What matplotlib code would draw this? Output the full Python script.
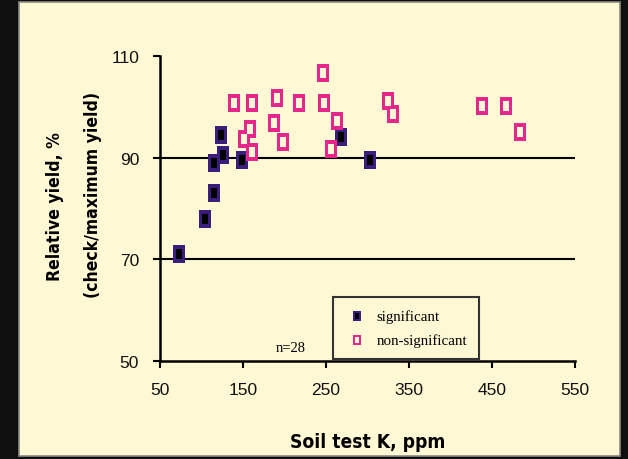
import matplotlib
matplotlib.use("Agg")
import matplotlib.pyplot as plt
from matplotlib.patches import Rectangle
from matplotlib.legend_handler import HandlerTuple

# datos
sig_k = [73, 104, 115, 115, 126, 123, 149, 268, 303]
sig_y = [71, 78, 83, 89, 90.5, 94.5, 89.5, 94, 89.5]

nosig_k = [139, 161, 158, 151, 161, 191, 187, 198, 217, 246, 248, 263, 256,
           325, 331, 438, 467, 484]
nosig_y = [100.7, 100.7, 95.6, 93.7, 91.1, 101.7, 96.8, 93.1, 100.7, 106.7,
           100.7, 97.2, 91.7, 101.1, 98.6, 100.2, 100.2, 95.0]

x_ticks = [50, 150, 250, 350, 450, 550]
y_ticks = [50, 70, 90, 110]
lineas = [70, 90]

crema = '#fff8d4'
morado = '#3b1d7c'
rosa = '#e5268a'

sans = ['DejaVu Sans']
serif = ['Liberation Serif', 'DejaVu Serif']

fig = plt.figure(figsize=(6.28, 4.6), dpi=100, facecolor='#0f0f0f')
# panel crema de fondo
fig.patches.append(Rectangle((19 / 628, 3 / 460), 601 / 628, 454 / 460,
                             transform=fig.transFigure, facecolor=crema,
                             edgecolor='#8a8a80', linewidth=1.2, zorder=-5))

ax = fig.add_axes([160 / 628, 1 - 362 / 460, 415 / 628, 305 / 460])
ax.set_facecolor('none')
ax.set_zorder(2)

caja = [(-0.38, -0.5), (0.38, -0.5), (0.38, 0.5), (-0.38, 0.5), (-0.38, -0.5)]
hueco = [(-0.28, -0.5), (0.28, -0.5), (0.28, 0.5), (-0.28, 0.5), (-0.28, -0.5)]

for y in lineas:
    ax.axhline(y, color='black', linewidth=1.5, zorder=1)

s1 = ax.scatter(sig_k, sig_y, marker=caja, s=150, color=morado,
                linewidth=0, zorder=3)
s2 = ax.scatter(sig_k, sig_y, marker=hueco, s=42, color='black',
                linewidth=0, zorder=4)
n1 = ax.scatter(nosig_k, nosig_y, marker=caja, s=150, color=rosa,
                linewidth=0, zorder=3)
n2 = ax.scatter(nosig_k, nosig_y, marker=hueco, s=42, color=crema,
                linewidth=0, zorder=4)

ax.set_xlim(50, 550)
ax.set_ylim(50, 110)
ax.set_xticks(x_ticks)
ax.set_yticks(y_ticks)
ax.spines['top'].set_visible(False)
ax.spines['right'].set_visible(False)
ax.spines['left'].set_linewidth(1.8)
ax.spines['bottom'].set_linewidth(1.8)
ax.tick_params(direction='out', length=5, width=1.5, labelsize=12.5, pad=10)
for t in ax.get_xticklabels() + ax.get_yticklabels():
    t.set_family(['Liberation Sans', 'DejaVu Sans'])
    t.set_color('#111111')

ax.set_xlabel('Soil test K, ppm', fontsize=13.8, fontweight='bold',
              family=sans, fontstretch='condensed', labelpad=25)
fig.text(55 / 628, 1 - 207 / 460, 'Relative yield, %', rotation=90,
         ha='center', va='center', fontsize=12.6, fontweight='bold',
         family=sans, fontstretch='condensed')
fig.text(93 / 628, 1 - 195 / 460, '(check/maximum yield)', rotation=90,
         ha='center', va='center', fontsize=12.6, fontweight='bold',
         family=sans, fontstretch='condensed')

ax.text(208, 52.6, 'n=28', fontsize=10.5, family=serif, ha='center', va='center')

leg = ax.legend([(s1, s2), (n1, n2)], ['significant', 'non-significant'],
                handler_map={tuple: HandlerTuple(ndivide=1)},
                loc='lower left', bbox_to_anchor=(0.417, 0.006),
                borderaxespad=0, prop={'family': serif, 'size': 10.8},
                frameon=True, fancybox=False, borderpad=0.8, labelspacing=0.7,
                handletextpad=0.5, markerscale=0.6, handlelength=1.6)
leg.get_frame().set_facecolor(crema)
leg.get_frame().set_edgecolor('#333333')
leg.get_frame().set_linewidth(1.5)
leg.get_frame().set_alpha(1)

fig.savefig('out.png', dpi=100, facecolor=fig.get_facecolor())
